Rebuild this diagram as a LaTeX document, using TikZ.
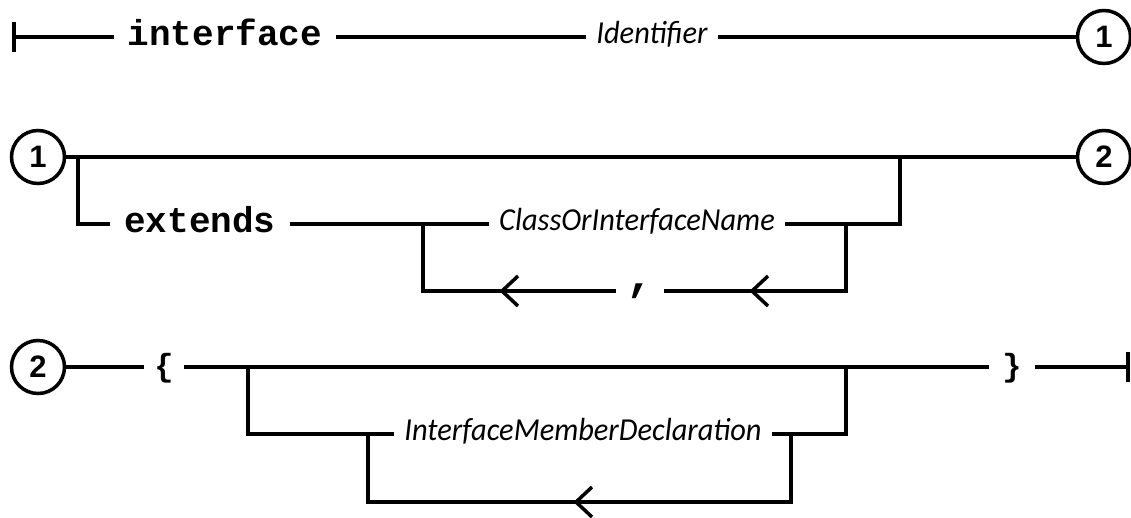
\documentclass[tikz,border=0pt]{standalone}
\usepackage{fontspec}
\newfontfamily\kwfont{Liberation Mono}
\newfontfamily\lblfont[FakeStretch=0.95]{Carlito}
\newfontfamily\numfont{Liberation Sans}
\tikzset{
  conn/.style={line width=3.5pt, line join=miter},
  kw/.style={font=\kwfont\bfseries\fontsize{36}{36}\selectfont, inner ysep=0pt, inner xsep=14pt, text height=16pt, text depth=0pt},
  brace/.style={font=\kwfont\bfseries\fontsize{32}{32}\selectfont, inner ysep=0pt, inner xsep=#1, text height=18pt, text depth=0pt},
  sep/.style={font=\kwfont\bfseries\fontsize{46}{46}\selectfont, inner ysep=0pt, inner xsep=10pt, text height=0pt, text depth=2pt},
  lbl/.style={font=\lblfont\itshape\fontsize{32}{32}\selectfont, inner ysep=0pt, inner xsep=10pt, text height=12pt, text depth=0pt},
  circ/.style={circle, draw, line width=3.5pt, minimum size=53pt, inner sep=0pt, font=\numfont\bfseries\fontsize{31}{31}\selectfont}
}
\begin{document}
\begin{tikzpicture}[x=1pt,y=-1pt]
\useasboundingbox (0,0) rectangle (1131,517);
% ---- row 1
\coordinate (s1) at (14,37);
\node[kw] (kI) at (225,37) {interface};
\node[lbl] (lId) at (652,37) {Identifier};
\node[circ] (c1R) at (1104,37) {1};
\draw[conn] (s1) ++(0,-15) -- ++(0,30);
\draw[conn] (s1) -- (kI);
\draw[conn] (kI) -- (lId);
\draw[conn] (lId) -- (c1R);
% ---- row 2
\node[circ] (c1L) at (38,157) {1};
\node[circ] (c2R) at (1104,157) {2};
\coordinate (a1) at (78,157);
\coordinate (a2) at (78,224);
\node[kw] (kE) at (200,224) {extends};
\node[lbl] (lC) at (637,224) {ClassOrInterfaceName};
\coordinate (b1) at (423,224);
\coordinate (b2) at (423,291);
\coordinate (d1) at (846,224);
\coordinate (d2) at (846,291);
\coordinate (e1) at (900,224);
\coordinate (e2) at (900,157);
\node[sep] (kc) at (640,291) {,};
\coordinate (ar1) at (502,291);
\coordinate (ar2) at (752,291);
\draw[conn] (c1L) -- (c2R);
\draw[conn] (a1) -- (a2) -- (kE);
\draw[conn] (kE) -- (lC);
\draw[conn] (lC) -- (e1) -- (e2);
\draw[conn] (d1) -- (d2) -- (kc);
\draw[conn] (kc) -- (b2) -- (b1);
\draw[conn] (ar1) ++(16,-15) -- (ar1) -- ++(16,15);
\draw[conn] (ar2) ++(16,-15) -- (ar2) -- ++(16,15);
% ---- row 3
\node[circ] (c2L) at (38,367) {2};
\node[brace=10pt] (lb) at (164,367) {\{};
\node[brace=13pt] (rb) at (1012,367) {\}};
\coordinate (t1) at (1128,367);
\coordinate (f1) at (248,367);
\coordinate (f2) at (248,434);
\node[lbl] (lM) at (583,434) {InterfaceMemberDeclaration};
\coordinate (g1) at (368,434);
\coordinate (g2) at (368,502);
\coordinate (h1) at (791,434);
\coordinate (h2) at (791,502);
\coordinate (k1) at (846,434);
\coordinate (k2) at (846,367);
\coordinate (ar3) at (576,502);
\draw[conn] (c2L) -- (lb);
\draw[conn] (lb) -- (rb);
\draw[conn] (rb) -- (t1);
\draw[conn] (t1) ++(0,-15) -- ++(0,30);
\draw[conn] (f1) -- (f2) -- (lM);
\draw[conn] (lM) -- (k1) -- (k2);
\draw[conn] (h1) -- (h2) -- (g2) -- (g1);
\draw[conn] (ar3) ++(16,-15) -- (ar3) -- ++(16,15);
\end{tikzpicture}
\end{document}
